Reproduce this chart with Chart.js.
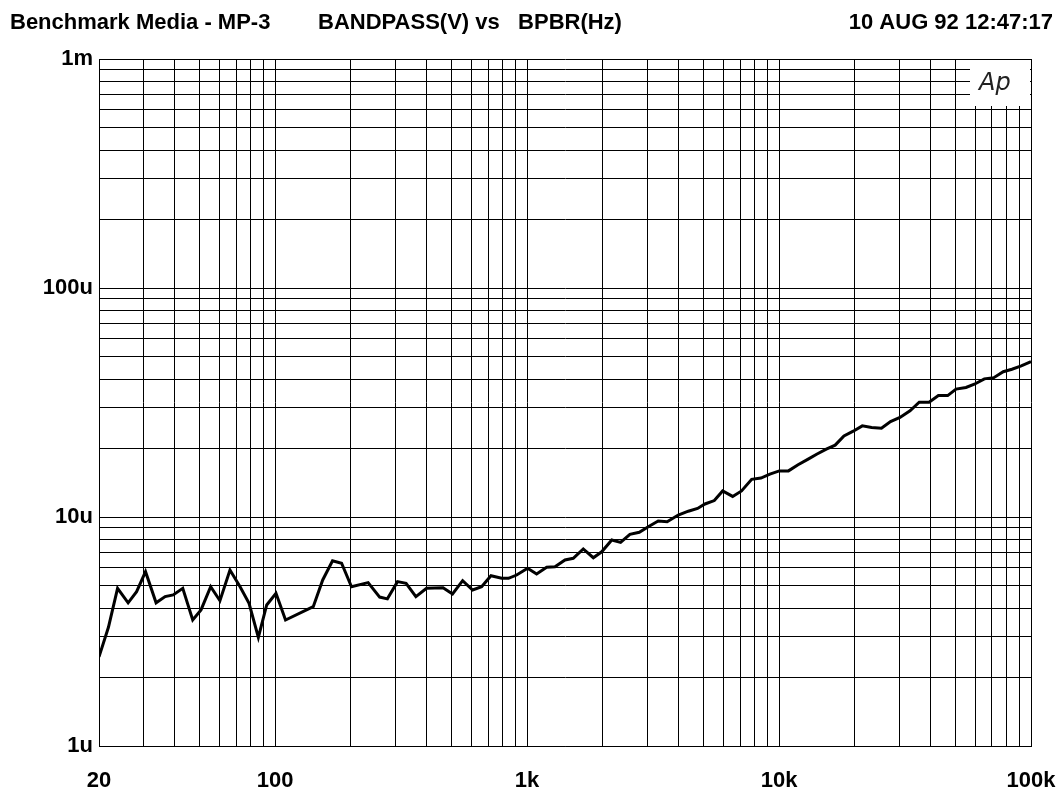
<!DOCTYPE html>
<html>
<head>
<meta charset="utf-8">
<script src="https://cdn.jsdelivr.net/npm/chart.js@4.4.1/dist/chart.umd.min.js"></script>
<style>
  html, body { margin: 0; padding: 0; background: #fff; }
  #wrap { width: 1058px; height: 793px; position: relative; }
</style>
</head>
<body>
<div id="wrap"><canvas id="apChart"></canvas></div>
<script>
// sweep frequency (Hz) and bandpass level (uV)
const freqs = [20, 21.8, 23.7, 26.1, 28.2, 30.6, 33.7, 36.6, 39.4, 43,
    47.1, 50.8, 55.5, 60.4, 66.2, 72.6, 78.8, 85.8, 92.6, 100.8,
    110, 141.7, 154.5, 169, 183.6, 201, 234, 260, 279, 306,
    331, 362, 399, 464, 506, 555, 608, 660, 719, 793,
    844, 909, 1005, 1091, 1196, 1291, 1414, 1525, 1671, 1832,
    1978, 2168, 2351, 2559, 2789, 3027, 3314, 3597, 3981, 4364,
    4750, 5083, 5535, 5973, 6545, 7100, 7786, 8476, 9200, 10020,
    10900, 11900, 13050, 14100, 15400, 16700, 18100, 19700, 21400, 23300,
    25500, 27700, 30200, 33100, 36000, 39400, 42900, 46700, 50400, 55200,
    59600, 65300, 71200, 77600, 84000, 91500, 100000];
const levels = [2.45, 3.3, 4.88, 4.22, 4.72, 5.77, 4.22, 4.49, 4.57, 4.88,
    3.55, 3.93, 4.96, 4.31, 5.87, 4.96, 4.2, 2.98, 4.13, 4.64,
    3.55, 4.06, 5.31, 6.44, 6.28, 4.96, 5.17, 4.47, 4.39, 5.22,
    5.13, 4.49, 4.88, 4.91, 4.61, 5.27, 4.80, 4.96, 5.54, 5.4,
    5.4, 5.58, 5.97, 5.64, 6.03, 6.06, 6.49, 6.6, 7.25, 6.64,
    7.05, 7.94, 7.75, 8.4, 8.58, 9.07, 9.6, 9.53, 10.2, 10.6,
    10.9, 11.4, 11.8, 13.0, 12.3, 13.0, 14.6, 14.8, 15.4, 15.9,
    15.9, 16.9, 17.9, 18.8, 19.8, 20.6, 22.6, 23.7, 25.0, 24.6,
    24.4, 26.1, 27.2, 29.1, 31.7, 31.7, 33.9, 33.9, 36.2, 36.8,
    38.0, 40.1, 40.6, 43.1, 44.2, 45.7, 47.7];

// grid positions and labels
const xTicks = [20, 30, 40, 50, 60, 70, 80, 90,
    100, 200, 300, 400, 500, 600, 700, 800, 900,
    1000, 2000, 3000, 4000, 5000, 6000, 7000, 8000, 9000,
    10000, 20000, 30000, 40000, 50000, 60000, 70000, 80000, 90000, 100000];
const xLabels = { 20: '20', 100: '100', 1000: '1k', 10000: '10k', 100000: '100k' };
const yTicks = [1, 2, 3, 4, 5, 6, 7, 8, 9,
    10, 20, 30, 40, 50, 60, 70, 80, 90,
    100, 200, 300, 400, 500, 600, 700, 800, 900, 1000];
const yLabels = { 1: '1u', 10: '10u', 100: '100u', 1000: '1m' };

const titleLeft = 'Benchmark Media - MP-3';
const titleMid = 'BANDPASS(V) vs   BPBR(Hz)';
const titleRight = '10 AUG 92 12:47:17';

const FONT = 'bold 22px "Liberation Sans", Arial, sans-serif';

let points = freqs.map((f, i) => ({ x: f, y: levels[i] }));

// header text + the little "Ap" box in the corner
const apDecor = {
    id: 'apDecor',
    afterDraw(chart) {
        const ctx = chart.ctx;
        const a = chart.chartArea;
        ctx.save();
        ctx.fillStyle = '#000';
        ctx.font = FONT;
        ctx.textBaseline = 'alphabetic';
        ctx.textAlign = 'left';
        ctx.fillText(titleLeft, 10, 29);
        ctx.fillText(titleMid, 318, 29);
        ctx.textAlign = 'right';
        ctx.fillText(titleRight, 1053, 29);

        ctx.fillStyle = '#fff';
        ctx.fillRect(a.right - 61, a.top + 1, 60, 46);
        ctx.fillStyle = '#222';
        ctx.font = 'italic 24px "DejaVu Sans", sans-serif';
        ctx.textAlign = 'left';
        ctx.fillText('Ap', a.right - 52, a.top + 31);
        ctx.restore();
    }
};

var ctx = document.getElementById('apChart').getContext('2d');
new Chart(ctx, {
    type: 'scatter',
    data: {
        datasets: [{
            data: points,
            showLine: true,
            borderColor: '#000',
            borderWidth: 3,
            pointRadius: 0,
            tension: 0,
            fill: false
        }]
    },
    options: {
        responsive: true,
        maintainAspectRatio: false,
        animation: false,
        layout: { padding: { top: 59, right: 27, left: 0, bottom: 0 } },
        plugins: {
            legend: { display: false },
            tooltip: { enabled: false }
        },
        scales: {
            x: {
                type: 'logarithmic',
                min: 20,
                max: 100000,
                afterBuildTicks: s => { s.ticks = xTicks.map(v => ({ value: v })); },
                afterFit: s => { s.height = 47; s.paddingLeft = 0; s.paddingRight = 0; },
                grid: { color: '#000', lineWidth: 1, drawTicks: false },
                border: { display: true, color: '#000', width: 1 },
                ticks: {
                    autoSkip: false,
                    maxRotation: 0,
                    padding: 22,
                    color: '#000',
                    font: { family: '"Liberation Sans", Arial, sans-serif', size: 22, weight: 'bold' },
                    callback: v => xLabels[v] || ''
                }
            },
            y: {
                type: 'logarithmic',
                min: 1,
                max: 1000,
                afterBuildTicks: s => { s.ticks = yTicks.map(v => ({ value: v })); },
                afterFit: s => { s.width = 99; s.paddingTop = 0; s.paddingBottom = 0; },
                grid: { color: '#000', lineWidth: 1, drawTicks: false },
                border: { display: true, color: '#000', width: 1 },
                ticks: {
                    autoSkip: false,
                    padding: 6,
                    color: '#000',
                    font: { family: '"Liberation Sans", Arial, sans-serif', size: 22, weight: 'bold' },
                    callback: v => yLabels[v] || ''
                }
            }
        }
    },
    plugins: [apDecor]
});
</script>
</body>
</html>
